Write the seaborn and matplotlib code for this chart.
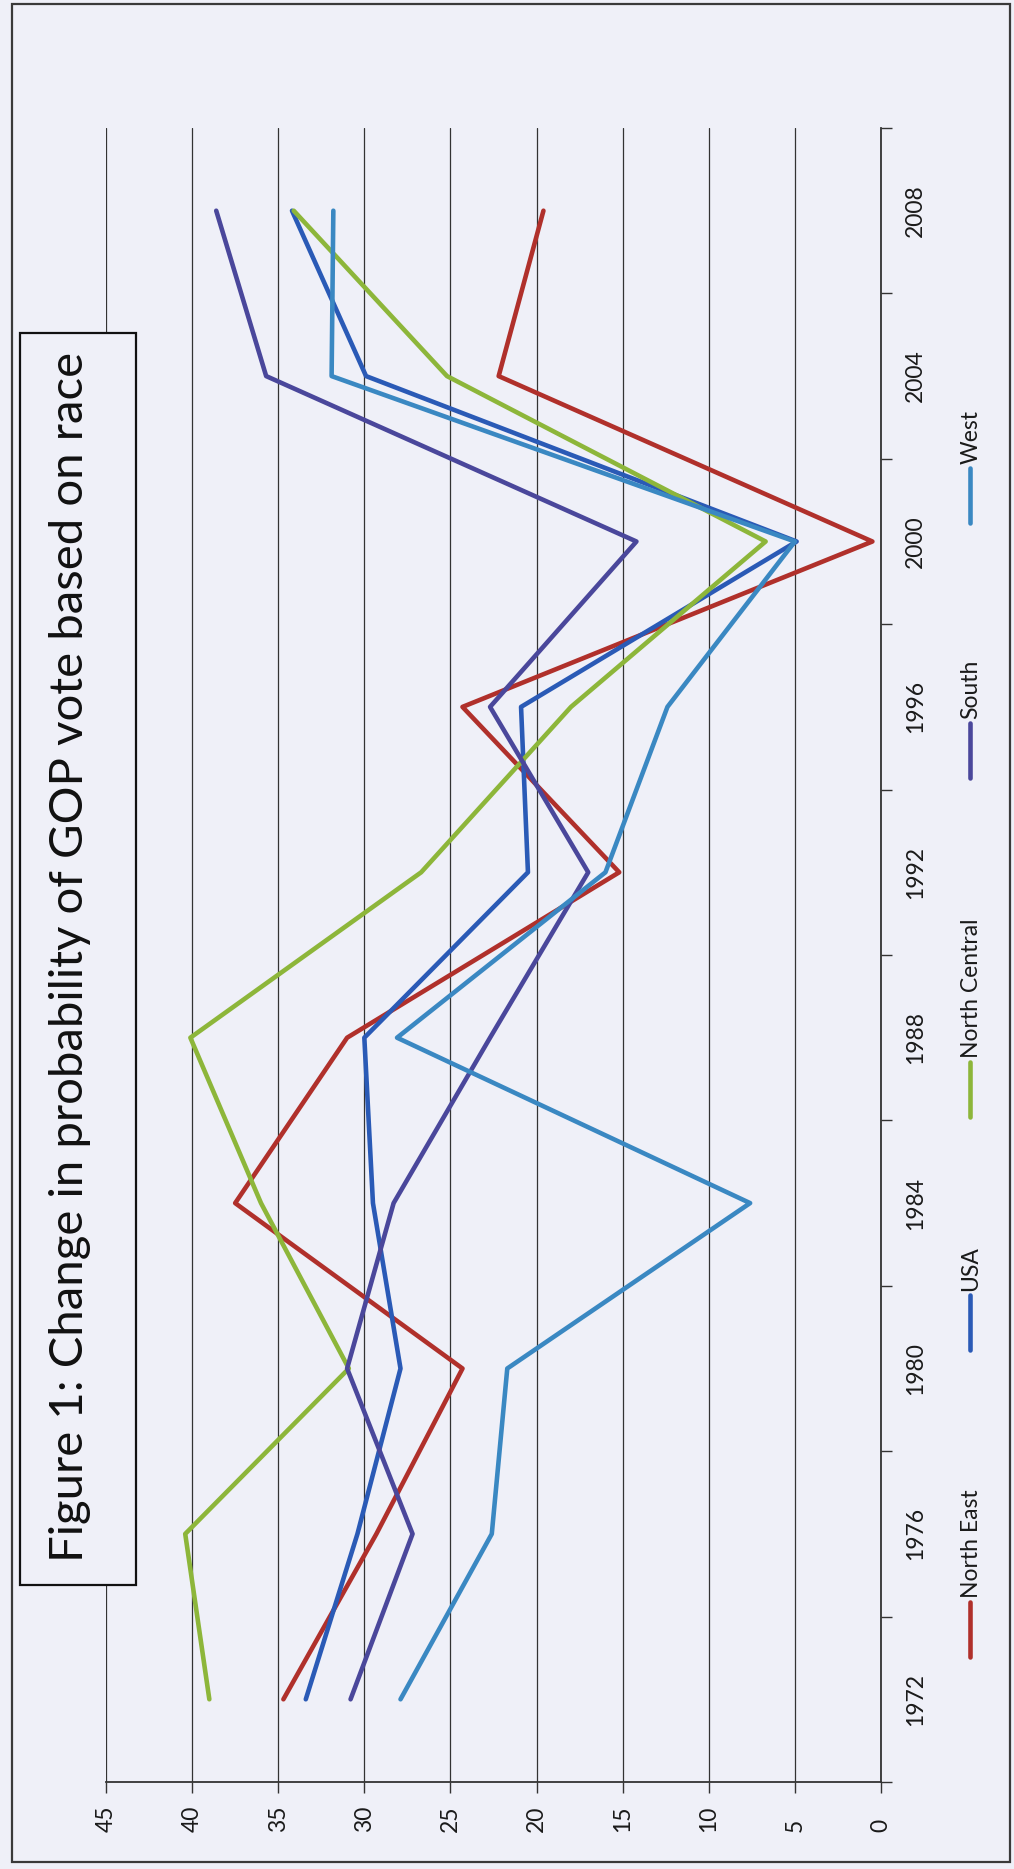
import numpy as np
import pandas as pd
import matplotlib
matplotlib.use("Agg")
import matplotlib.pyplot as plt
from matplotlib.lines import Line2D
from matplotlib.patches import Rectangle
import seaborn as sns

# ---- data -------------------------------------------------------------
years = [1972, 1976, 1980, 1984, 1988, 1992, 1996, 2000, 2004, 2008]
north_east = [34.7, 29.3, 24.3, 37.5, 31.0, 15.2, 24.3, 0.5, 22.2, 19.6]
usa = [33.4, 30.4, 27.9, 29.5, 30.0, 20.5, 20.9, 4.9, 29.9, 34.2]
north_central = [39.0, 40.4, 30.9, 36.0, 40.1, 26.7, 18.0, 6.7, 25.2, 34.1]
south = [30.8, 27.2, 31.0, 28.3, 22.7, 17.0, 22.7, 14.2, 35.7, 38.6]
west = [27.9, 22.6, 21.7, 7.6, 28.1, 16.0, 12.4, 5.0, 31.9, 31.8]

series_names = ["North East", "USA", "North Central", "South", "West"]
series_values = [north_east, usa, north_central, south, west]
series_colors = ["#B0302B", "#2A5AB6", "#8DB63A", "#4A479B", "#3A88C2"]

value_ticks = [0, 5, 10, 15, 20, 25, 30, 35, 40, 45]
title = "Figure 1: Change in probability of GOP vote based on race"

# ---- canvas ------------------------------------------------------------
W, H, DPI = 1014, 1869, 100
PAPER = "#EFF0F8"
INK = "#333333"

sns.set_theme(style="white")
plt.rcParams["font.family"] = ["Lato", "DejaVu Sans"]

df = pd.DataFrame({
    "year": years * len(series_names),
    "value": [v for vals in series_values for v in vals],
    "region": [n for n in series_names for _ in years],
})


def fx(px):
    return px / W


def fy(py):
    return 1 - py / H


fig = plt.figure(figsize=(W / DPI, H / DPI), dpi=DPI, facecolor=PAPER)

# plot area: value axis runs right-to-left along the bottom, years upward
left_px, right_px, top_px, bottom_px = 106, 881, 128, 1782
ax = fig.add_axes([fx(left_px), fy(bottom_px),
                   fx(right_px) - fx(left_px), fy(top_px) - fy(bottom_px)])
ax.set_facecolor(PAPER)

sns.lineplot(data=df, x="value", y="year", hue="region",
             hue_order=series_names,
             palette=dict(zip(series_names, series_colors)),
             orient="y", sort=False, estimator=None, linewidth=3.3,
             solid_capstyle="round", solid_joinstyle="round",
             legend=False, ax=ax)

ax.set_xlim(45, 0)
ax.set_ylim(1970, 2010)
ax.set_xlabel("")
ax.set_ylabel("")

# value axis (bottom)
ax.set_xticks(value_ticks, labels=[str(v) for v in value_ticks],
              rotation=90, va="bottom", ha="center")
ax.tick_params(axis="x", bottom=True, length=8, width=1.0, color=INK,
               direction="out", pad=28, labelsize=16.5, labelcolor="#1A1A1A")
ax.xaxis.grid(True, color=INK, linewidth=0.9)
ax.yaxis.grid(False)
ax.set_axisbelow(True)

# year axis (right), labels centred between the tick marks
ax.yaxis.tick_right()
ax.set_yticks(years, labels=[str(y) for y in years],
              rotation=90, va="center", ha="left")
ax.set_yticks(list(range(1970, 2011, 4)), minor=True)
ax.tick_params(axis="y", which="major", right=True, left=False, length=0,
               pad=17, labelsize=16.5, labelcolor="#1A1A1A")
ax.tick_params(axis="y", which="minor", right=True, left=False, length=8,
               width=1.0, color=INK, direction="out")

for side in ["left", "top"]:
    ax.spines[side].set_visible(False)
for side in ["right", "bottom"]:
    ax.spines[side].set_visible(True)
    ax.spines[side].set_color(INK)
    ax.spines[side].set_linewidth(1.3)

# outer frame
fig.add_artist(Rectangle((fx(12), fy(1862)), fx(1010) - fx(12), fy(4) - fy(1862),
                         transform=fig.transFigure, fill=False,
                         edgecolor="#3A3A3A", linewidth=1.6, zorder=5))

# title box
fig.add_artist(Rectangle((fx(20), fy(1585)), fx(136) - fx(20), fy(333) - fy(1585),
                         transform=fig.transFigure, facecolor=PAPER,
                         edgecolor="#111111", linewidth=1.6, zorder=5))
fig.text(fx(70), fy(957), title, rotation=90, ha="center", va="center",
         fontsize=34, color="#111111", zorder=6)

# legend, laid out bottom-to-top along the right edge
legend_x = 970
legend_starts = [1657, 1350, 1117, 778, 523]
seg_len = 55
for name, color, start in zip(series_names, series_colors, legend_starts):
    fig.add_artist(Line2D([fx(legend_x), fx(legend_x)],
                          [fy(start), fy(start - seg_len)],
                          transform=fig.transFigure, color=color,
                          linewidth=3.3, solid_capstyle="round", zorder=6))
    fig.text(fx(legend_x + 1), fy(start - seg_len - 4), name, rotation=90,
             ha="center", va="bottom", fontsize=16.5, color="#1A1A1A", zorder=6)

fig.savefig("out.png", dpi=DPI, facecolor=PAPER)
